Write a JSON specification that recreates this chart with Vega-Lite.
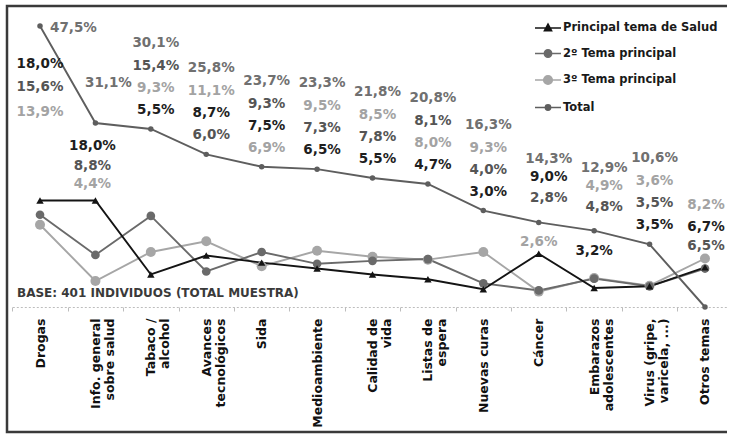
{
  "$schema": "https://vega.github.io/schema/vega-lite/v6.json",
  "width": 722,
  "height": 426,
  "autosize": {"type": "none"},
  "padding": {"left": 7, "top": 6, "right": -2, "bottom": 3},
  "background": "white",
  "config": {
    "view": {"stroke": "#3a3a3a", "strokeWidth": 2.5},
    "font": "DejaVu Sans"
  },
  "title": {
    "text": "BASE: 401 INDIVIDUOS (TOTAL MUESTRA)",
    "orient": "bottom",
    "anchor": "start",
    "frame": "group",
    "offset": -144,
    "dx": 10,
    "baseline": "top",
    "font": "DejaVu Sans",
    "fontSize": 12,
    "fontWeight": "bold",
    "color": "#3a3a3a"
  },
  "data": {
    "values": [
      {"cat": "Drogas", "serie": "3º Tema principal", "v": 13.9},
      {"cat": "Info. general\nsobre salud", "serie": "3º Tema principal", "v": 4.4},
      {"cat": "Tabaco /\nalcohol", "serie": "3º Tema principal", "v": 9.3},
      {"cat": "Avances\ntecnológicos", "serie": "3º Tema principal", "v": 11.1},
      {"cat": "Sida", "serie": "3º Tema principal", "v": 6.9},
      {"cat": "Medioambiente", "serie": "3º Tema principal", "v": 9.5},
      {"cat": "Calidad de\nvida", "serie": "3º Tema principal", "v": 8.5},
      {"cat": "Listas de\nespera", "serie": "3º Tema principal", "v": 8.0},
      {"cat": "Nuevas curas", "serie": "3º Tema principal", "v": 9.3},
      {"cat": "Cáncer", "serie": "3º Tema principal", "v": 2.6},
      {"cat": "Embarazos\nadolescentes", "serie": "3º Tema principal", "v": 4.9},
      {"cat": "Virus (gripe,\nvaricela, ...)", "serie": "3º Tema principal", "v": 3.6},
      {"cat": "Otros temas", "serie": "3º Tema principal", "v": 8.2},

      {"cat": "Drogas", "serie": "2º Tema principal", "v": 15.6},
      {"cat": "Info. general\nsobre salud", "serie": "2º Tema principal", "v": 8.8},
      {"cat": "Tabaco /\nalcohol", "serie": "2º Tema principal", "v": 15.4},
      {"cat": "Avances\ntecnológicos", "serie": "2º Tema principal", "v": 6.0},
      {"cat": "Sida", "serie": "2º Tema principal", "v": 9.3},
      {"cat": "Medioambiente", "serie": "2º Tema principal", "v": 7.3},
      {"cat": "Calidad de\nvida", "serie": "2º Tema principal", "v": 7.8},
      {"cat": "Listas de\nespera", "serie": "2º Tema principal", "v": 8.1},
      {"cat": "Nuevas curas", "serie": "2º Tema principal", "v": 4.0},
      {"cat": "Cáncer", "serie": "2º Tema principal", "v": 2.8},
      {"cat": "Embarazos\nadolescentes", "serie": "2º Tema principal", "v": 4.8},
      {"cat": "Virus (gripe,\nvaricela, ...)", "serie": "2º Tema principal", "v": 3.5},
      {"cat": "Otros temas", "serie": "2º Tema principal", "v": 6.5},

      {"cat": "Drogas", "serie": "Principal tema de Salud", "v": 18.0},
      {"cat": "Info. general\nsobre salud", "serie": "Principal tema de Salud", "v": 18.0},
      {"cat": "Tabaco /\nalcohol", "serie": "Principal tema de Salud", "v": 5.5},
      {"cat": "Avances\ntecnológicos", "serie": "Principal tema de Salud", "v": 8.7},
      {"cat": "Sida", "serie": "Principal tema de Salud", "v": 7.5},
      {"cat": "Medioambiente", "serie": "Principal tema de Salud", "v": 6.5},
      {"cat": "Calidad de\nvida", "serie": "Principal tema de Salud", "v": 5.5},
      {"cat": "Listas de\nespera", "serie": "Principal tema de Salud", "v": 4.7},
      {"cat": "Nuevas curas", "serie": "Principal tema de Salud", "v": 3.0},
      {"cat": "Cáncer", "serie": "Principal tema de Salud", "v": 9.0},
      {"cat": "Embarazos\nadolescentes", "serie": "Principal tema de Salud", "v": 3.2},
      {"cat": "Virus (gripe,\nvaricela, ...)", "serie": "Principal tema de Salud", "v": 3.5},
      {"cat": "Otros temas", "serie": "Principal tema de Salud", "v": 6.7},

      {"cat": "Drogas", "serie": "Total", "v": 47.5},
      {"cat": "Info. general\nsobre salud", "serie": "Total", "v": 31.1},
      {"cat": "Tabaco /\nalcohol", "serie": "Total", "v": 30.1},
      {"cat": "Avances\ntecnológicos", "serie": "Total", "v": 25.8},
      {"cat": "Sida", "serie": "Total", "v": 23.7},
      {"cat": "Medioambiente", "serie": "Total", "v": 23.3},
      {"cat": "Calidad de\nvida", "serie": "Total", "v": 21.8},
      {"cat": "Listas de\nespera", "serie": "Total", "v": 20.8},
      {"cat": "Nuevas curas", "serie": "Total", "v": 16.3},
      {"cat": "Cáncer", "serie": "Total", "v": 14.3},
      {"cat": "Embarazos\nadolescentes", "serie": "Total", "v": 12.9},
      {"cat": "Virus (gripe,\nvaricela, ...)", "serie": "Total", "v": 10.6},
      {"cat": "Otros temas", "serie": "Total", "v": 0}
    ]
  },
  "encoding": {
    "x": {
      "field": "cat",
      "type": "nominal",
      "scale": {
        "type": "band",
        "domain": ["Drogas", "Info. general\nsobre salud", "Tabaco /\nalcohol", "Avances\ntecnológicos", "Sida", "Medioambiente", "Calidad de\nvida", "Listas de\nespera", "Nuevas curas", "Cáncer", "Embarazos\nadolescentes", "Virus (gripe,\nvaricela, ...)", "Otros temas"],
        "range": [5.3, 725.7],
        "paddingInner": 0,
        "paddingOuter": 0
      },
      "axis": {
        "title": null,
        "offset": -125,
        "grid": false,
        "domainColor": "#bdbdbd",
        "domainDash": [2, 2],
        "domainWidth": 1,
        "tickColor": "#bdbdbd",
        "tickSize": 4,
        "tickBand": "extent",
        "labelAngle": 270,
        "labelAlign": "right",
        "labelBaseline": "middle",
        "labelFont": "DejaVu Sans",
        "labelFontWeight": "bold",
        "labelFontSize": 12.5,
        "labelColor": "#111111",
        "labelPadding": 7,
        "labelLineHeight": 14,
        "labelExpr": "isValid(datum.value) ? split(datum.value, '\\n') : ''",
        "labelOverlap": false,
        "labelBound": false,
        "labelLimit": 300
      }
    },
    "y": {"field": "v", "type": "quantitative", "scale": {"domain": [-21.13, 50.88], "nice": false, "zero": false}, "axis": null},
    "color": {
      "field": "serie",
      "type": "nominal",
      "scale": {
        "domain": ["Principal tema de Salud", "2º Tema principal", "3º Tema principal", "Total"],
        "range": ["#141414", "#6a6a6a", "#a6a6a6", "#5e5e5e"]
      },
      "legend": {
        "orient": "none",
        "legendX": 527,
        "legendY": 8,
        "title": null,
        "padding": 0,
        "symbolType": "M-1,0H1",
        "symbolSize": 676,
        "symbolStrokeWidth": 1.6,
        "rowPadding": 5.5,
        "labelOffset": 1,
        "labelFont": "DejaVu Sans",
        "labelFontWeight": "bold",
        "labelFontSize": 11.5,
        "labelColor": "#1a1a1a",
        "encode": {
          "symbols": {
            "update": {
              "shape": {"signal": "datum.value === 'Principal tema de Salud' ? 'M-1,0H1M0,-0.3L0.27,0.2L-0.27,0.2Z' : datum.value === '3º Tema principal' ? 'M-1,0H1M0.33,0A0.33,0.33 0 1,1 -0.33,0A0.33,0.33 0 1,1 0.33,0Z' : datum.value === 'Total' ? 'M-1,0H1M0.2,0A0.2,0.2 0 1,1 -0.2,0A0.2,0.2 0 1,1 0.2,0Z' : 'M-1,0H1M0.28,0A0.28,0.28 0 1,1 -0.28,0A0.28,0.28 0 1,1 0.28,0Z'"},
              "size": {"value": 676},
              "strokeWidth": {"value": 1.6},
              "opacity": {"value": 1}
            }
          }
        }
      }
    }
  },
  "layer": [
    {
      "mark": {"type": "line", "strokeWidth": 1.9}
    },
    {
      "transform": [{"filter": "datum.serie === '3º Tema principal'"}],
      "mark": {"type": "point", "filled": true, "opacity": 1, "shape": "circle", "size": 100}
    },
    {
      "transform": [{"filter": "datum.serie === '2º Tema principal'"}],
      "mark": {"type": "point", "filled": true, "opacity": 1, "shape": "circle", "size": 75}
    },
    {
      "transform": [{"filter": "datum.serie === 'Principal tema de Salud'"}],
      "mark": {"type": "point", "filled": true, "opacity": 1, "shape": "triangle-up", "size": 55}
    },
    {
      "transform": [{"filter": "datum.serie === 'Total'"}],
      "mark": {"type": "point", "filled": true, "opacity": 1, "shape": "circle", "size": 30}
    },
    {
      "transform": [
        {"calculate": "datum.serie === 'Total' ? datum.v : null", "as": "tv"},
        {"joinaggregate": [{"op": "max", "field": "tv", "as": "total"}], "groupby": ["cat"]},
        {"calculate": "datum.serie === 'Total' ? 0 : 1", "as": "isSub"},
        {"calculate": "indexof(['Principal tema de Salud', '2º Tema principal', '3º Tema principal', 'Total'], datum.serie)", "as": "sidx"},
        {
          "window": [{"op": "row_number", "as": "rank"}],
          "groupby": ["cat"],
          "sort": [{"field": "isSub", "order": "ascending"}, {"field": "v", "order": "descending"}, {"field": "sidx", "order": "descending"}]
        },
        {"calculate": "replace(format(datum.v, '.1f'), '.', ',') + '%'", "as": "lbl"},
        {"calculate": "datum.cat === 'Drogas' ? 'D' : indexof(datum.cat, 'Info') === 0 ? 'I' : datum.cat === 'Otros temas' ? 'O' : (datum.cat === 'Cáncer' || indexof(datum.cat, 'Embarazos') === 0) ? 'C' : 'A'", "as": "grp"}
      ],
      "encoding": {
        "y": {"field": "total", "type": "quantitative"},
        "color": null,
        "text": {"field": "lbl", "type": "nominal"},
        "fill": {
          "field": "serie",
          "type": "nominal",
          "scale": {
            "domain": ["Principal tema de Salud", "2º Tema principal", "3º Tema principal", "Total"],
            "range": ["#1e1e1e", "#555555", "#a3a3a3", "#707070"]
          },
          "legend": null
        }
      },
      "layer": [
        {
          "transform": [{"filter": "datum.grp === 'A'"}],
          "mark": {"type": "text", "font": "DejaVu Sans", "fontWeight": "bold", "fontSize": 13.5, "baseline": "middle", "align": "center", "dx": 5, "dy": {"expr": "[-86, -63, -41, -19][datum.rank - 1]"}}
        },
        {
          "transform": [{"filter": "datum.grp === 'C'"}],
          "mark": {"type": "text", "font": "DejaVu Sans", "fontWeight": "bold", "fontSize": 13.5, "baseline": "middle", "align": "center", "dx": {"expr": "datum.rank === 4 ? 0 : 10"}, "dy": {"expr": "[-63, -45, -24, 20][datum.rank - 1]"}}
        },
        {
          "transform": [{"filter": "datum.grp === 'D'"}],
          "mark": {"type": "text", "font": "DejaVu Sans", "fontWeight": "bold", "fontSize": 13.5, "baseline": "middle", "align": {"expr": "datum.rank === 1 ? 'left' : 'center'"}, "dx": {"expr": "datum.rank === 1 ? 10 : 0"}, "dy": {"expr": "[2, 38, 61, 86][datum.rank - 1]"}}
        },
        {
          "transform": [{"filter": "datum.grp === 'I'"}],
          "mark": {"type": "text", "font": "DejaVu Sans", "fontWeight": "bold", "fontSize": 13.5, "baseline": "middle", "align": "center", "dx": {"expr": "datum.rank === 1 ? 13 : -3"}, "dy": {"expr": "[-40, 23, 43, 61][datum.rank - 1]"}}
        },
        {
          "transform": [{"filter": "datum.grp === 'O' && datum.rank > 1"}],
          "mark": {"type": "text", "font": "DejaVu Sans", "fontWeight": "bold", "fontSize": 13.5, "baseline": "middle", "align": "center", "dx": 1, "dy": {"expr": "[0, -102, -80, -61][datum.rank - 1]"}}
        }
      ]
    }
  ]
}
